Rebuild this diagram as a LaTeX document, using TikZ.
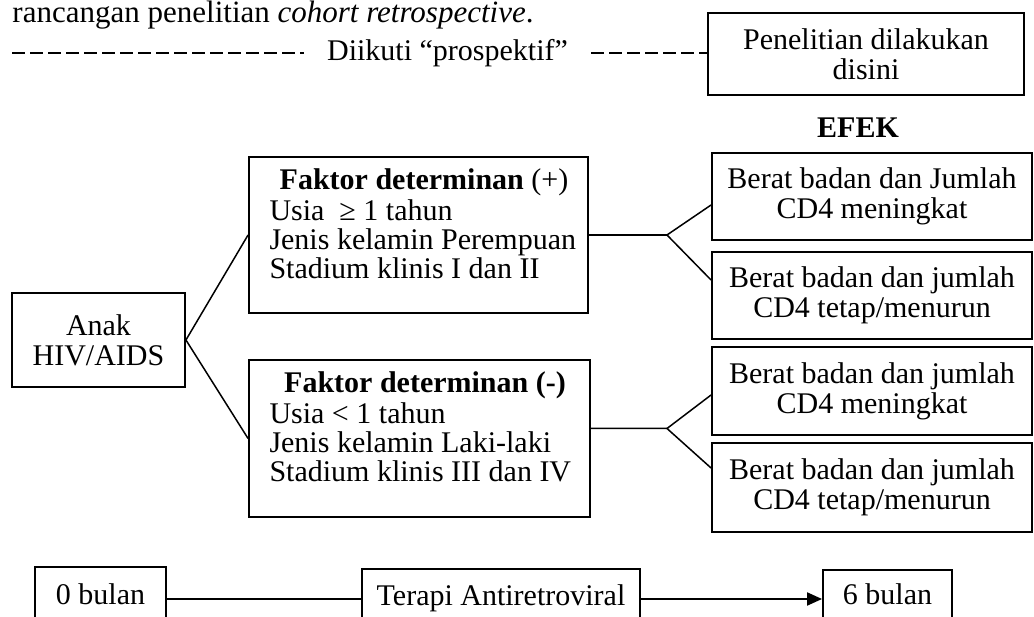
\documentclass[tikz,border=0pt]{standalone}
\usepackage{fontspec}
\setmainfont{Liberation Serif}
\usetikzlibrary{arrows.meta}
\begin{document}
\begin{tikzpicture}[x=0.4pt,y=-0.4pt,
  font=\fontsize{12}{12}\selectfont,
  box/.style={draw, line width=0.75pt, inner sep=0pt, align=center},
  conn/.style={line width=0.6pt},
  dashline/.style={line width=0.6pt, dash pattern=on 5.2pt off 2pt},
  txt/.style={inner sep=0pt}]
\useasboundingbox (0,0) rectangle (1034,617);
\clip (0,0) rectangle (1034,617);

% heading
\node[txt, anchor=base west, font=\fontsize{12.4}{12.4}\selectfont] (head) at (12,23) {rancangan penelitian \textit{cohort retrospective}.};

% dashed time line
\coordinate (d0) at (12,53);
\node[inner xsep=9.2pt, inner ysep=0pt] (dk) at (447.5,53) {Diikuti “prospektif”};
\node[box, minimum width=126.4pt, minimum height=32.8pt] (here) at (866,54) {Penelitian dilakukan\\disini};
\draw[dashline] (d0) -- (dk.west);
\draw[dashline] (dk.east) -- (dk.east -| here.west);

\node[txt, anchor=base, font=\fontsize{12}{12}\selectfont\bfseries] (efek) at (858,138) {EFEK};

% main boxes
\node[box, minimum width=69.2pt, minimum height=37.6pt] (anak) at (98.5,340) {Anak\\HIV/AIDS};

\node[box, minimum width=135.6pt, minimum height=62.4pt] (fp) at (418.5,235) {};
\node[txt, anchor=base] (fpt) at (424,190) {\textbf{Faktor determinan} (+)};
\node[txt, anchor=base west] (fp1) at (269,221) {Usia\ \ ≥ 1 tahun};
\node[txt, anchor=base west] (fp2) at (269,250) {Jenis kelamin Perempuan};
\node[txt, anchor=base west] (fp3) at (269,279) {Stadium klinis I dan II};

\node[box, minimum width=136.4pt, minimum height=62.8pt] (fn) at (419.5,438.5) {};
\node[txt, anchor=base] (fnt) at (425,393) {\textbf{Faktor determinan (-)}};
\node[txt, anchor=base west] (fn1) at (269,424) {Usia < 1 tahun};
\node[txt, anchor=base west] (fn2) at (269,453) {Jenis kelamin Laki-laki};
\node[txt, anchor=base west] (fn3) at (269,482) {Stadium klinis III dan IV};

% effect boxes
\node[box, minimum width=128pt, minimum height=34.8pt] (b1) at (872,196.5) {Berat badan dan Jumlah\\CD4 meningkat};
\node[box, minimum width=128pt, minimum height=34.8pt] (b2) at (872,295.5) {Berat badan dan jumlah\\CD4 tetap/menurun};
\node[box, minimum width=128pt, minimum height=35.2pt] (b3) at (872,391) {Berat badan dan jumlah\\CD4 meningkat};
\node[box, minimum width=128pt, minimum height=35.6pt] (b4) at (872,487.5) {Berat badan dan jumlah\\CD4 tetap/menurun};

% connectors
\draw[conn] (fp.west) -- (anak.east) -- (fn.west);
\coordinate (f1) at (667,235);
\coordinate (f2) at (667,428.5);
\draw[conn] (fp.east) -- (f1);
\draw[conn] ([yshift=-3.4pt]b1.west) -- (f1) -- ([yshift=6.2pt]b2.west);
\draw[conn] ([yshift=4pt]fn.east) -- (f2);
\draw[conn] ([yshift=-1.6pt]b3.west) -- (f2) -- ([yshift=7.8pt]b4.west);

% bottom row
\node[box, minimum width=52.4pt, minimum height=25.6pt] (zb) at (100.5,599) {};
\node[txt, anchor=base] (zbt) at (100.5,605) {0 bulan};
\node[box, minimum width=111.2pt, minimum height=24pt] (tb) at (501,599) {};
\node[txt, anchor=base] (tbt) at (501,606) {Terapi Antiretroviral};
\node[box, minimum width=51.6pt, minimum height=23.2pt] (sb) at (887.5,599) {};
\node[txt, anchor=base] (sbt) at (887.5,605) {6 bulan};
\draw[line width=0.8pt] (zb.east) -- (tb.west);
\draw[line width=0.8pt, -{Triangle[length=6pt,width=5.2pt]}] (tb.east) -- (sb.west);
\end{tikzpicture}
\end{document}
